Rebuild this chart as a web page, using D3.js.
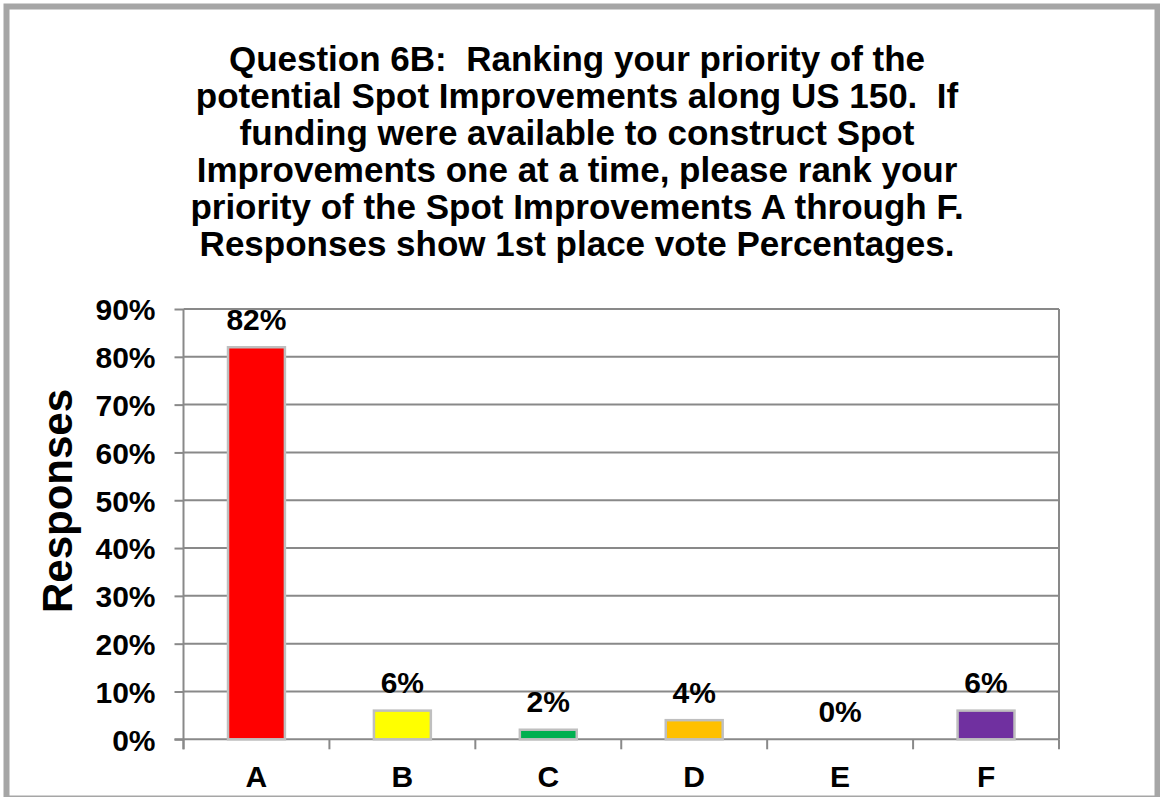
<!DOCTYPE html>
<html>
<head>
<meta charset="utf-8">
<script src="https://cdn.jsdelivr.net/npm/d3@7"></script>
<style>
  html, body { margin: 0; padding: 0; background: #ffffff; }
  svg { display: block; }
  text { font-family: "Liberation Sans", Arial, Helvetica, sans-serif; font-weight: bold; fill: #000; white-space: pre; }
</style>
</head>
<body>
<svg id="chart" width="1160" height="797"></svg>
<script>
// Spot improvement options and their share of 1st place votes (%)
const categories = ["A", "B", "C", "D", "E", "F"];
const firstPlacePct = [82, 6, 2, 4, 0, 6];
const barColors = ["#FF0000", "#FFFF00", "#00B050", "#FFC000", "#4F81BD", "#7030A0"];
const yTicks = [0, 10, 20, 30, 40, 50, 60, 70, 80, 90];
const titleLines = [
  "Question 6B:  Ranking your priority of the",
  "potential Spot Improvements along US 150.  If",
  "funding were available to construct Spot",
  "Improvements one at a time, please rank your",
  "priority of the Spot Improvements A through F.",
  "Responses show 1st place vote Percentages."
];
const yTitle = "Responses";

const plot = { left: 183.5, right: 1059, top: 309, bottom: 739.3 };
const svg = d3.select("#chart");

// outer chart frame
svg.append("rect")
  .attr("x", 6.5).attr("y", 6.5)
  .attr("width", 1151).attr("height", 792)
  .attr("fill", "#fff")
  .attr("stroke", "#a6a6a6")
  .attr("stroke-width", 6);

// title
const title = svg.append("text")
  .attr("text-anchor", "middle")
  .attr("xml:space", "preserve")
  .style("font-size", "35px");
titleLines.forEach((line, i) => {
  title.append("tspan")
    .attr("x", 577)
    .attr("y", 71 + i * 37)
    .text(line);
});

const x = d3.scaleBand()
  .domain(categories)
  .range([plot.left, plot.right])
  .paddingInner(0.61)
  .paddingOuter(0.305);

const y = d3.scaleLinear()
  .domain([0, 90])
  .range([plot.bottom, plot.top]);

const gridColor = "#898989";

// horizontal gridlines
svg.append("g")
  .selectAll("line")
  .data(yTicks.filter(d => d > 0))
  .join("line")
  .attr("x1", plot.left)
  .attr("x2", plot.right)
  .attr("y1", d => y(d))
  .attr("y2", d => y(d))
  .attr("stroke", gridColor)
  .attr("stroke-width", 2);

// right border of the plot area
svg.append("line")
  .attr("x1", plot.right).attr("x2", plot.right)
  .attr("y1", y(90)).attr("y2", y(0))
  .attr("stroke", gridColor).attr("stroke-width", 2);

// y axis
const yAxis = svg.append("g")
  .attr("transform", `translate(${plot.left},0)`)
  .call(d3.axisLeft(y).tickValues(yTicks).tickSize(9).tickPadding(19).tickFormat(d => d + "%"));
yAxis.select(".domain").remove();
yAxis.selectAll(".tick line").attr("stroke", gridColor).attr("stroke-width", 2);
yAxis.selectAll(".tick text")
  .attr("dy", "0.36em")
  .style("font-size", "30px")
  .style("font-family", "'Liberation Sans', Arial, sans-serif")
  .style("font-weight", "bold")
  .attr("fill", "#000");
yAxis.append("line")
  .attr("x1", 0).attr("x2", 0)
  .attr("y1", y(90)).attr("y2", y(0) + 10)
  .attr("stroke", gridColor).attr("stroke-width", 2);

// x axis: baseline, category boundary ticks and labels
const xAxis = svg.append("g").attr("transform", `translate(0,${plot.bottom})`);
xAxis.append("line")
  .attr("x1", plot.left - 9).attr("x2", plot.right)
  .attr("y1", 0).attr("y2", 0)
  .attr("stroke", gridColor).attr("stroke-width", 2);
const boundaries = d3.range(categories.length + 1).map(i => plot.left + i * x.step());
xAxis.selectAll("line.bound")
  .data(boundaries)
  .join("line")
  .attr("class", "bound")
  .attr("x1", d => d).attr("x2", d => d)
  .attr("y1", 0).attr("y2", 10)
  .attr("stroke", gridColor).attr("stroke-width", 2);
xAxis.selectAll("text.cat")
  .data(categories)
  .join("text")
  .attr("class", "cat")
  .attr("x", d => x(d) + x.bandwidth() / 2)
  .attr("y", 48)
  .attr("text-anchor", "middle")
  .style("font-size", "30px")
  .text(d => d);

// bars
const data = categories.map((c, i) => ({ cat: c, value: firstPlacePct[i], color: barColors[i] }));
svg.append("g")
  .selectAll("rect")
  .data(data.filter(d => d.value > 0))
  .join("rect")
  .attr("x", d => x(d.cat))
  .attr("y", d => y(d.value))
  .attr("width", x.bandwidth())
  .attr("height", d => y(0) - y(d.value))
  .attr("fill", d => d.color)
  .attr("stroke", "#bfbfbf")
  .attr("stroke-width", 2.5);

// value labels
svg.append("g")
  .selectAll("text")
  .data(data)
  .join("text")
  .attr("x", d => x(d.cat) + x.bandwidth() / 2)
  .attr("y", d => y(d.value) - 17.5)
  .attr("text-anchor", "middle")
  .style("font-size", "30px")
  .text(d => d.value + "%");

// y axis title
svg.append("text")
  .attr("transform", `translate(72,501) rotate(-90)`)
  .attr("text-anchor", "middle")
  .style("font-size", "42px")
  .text(yTitle);
</script>
</body>
</html>
